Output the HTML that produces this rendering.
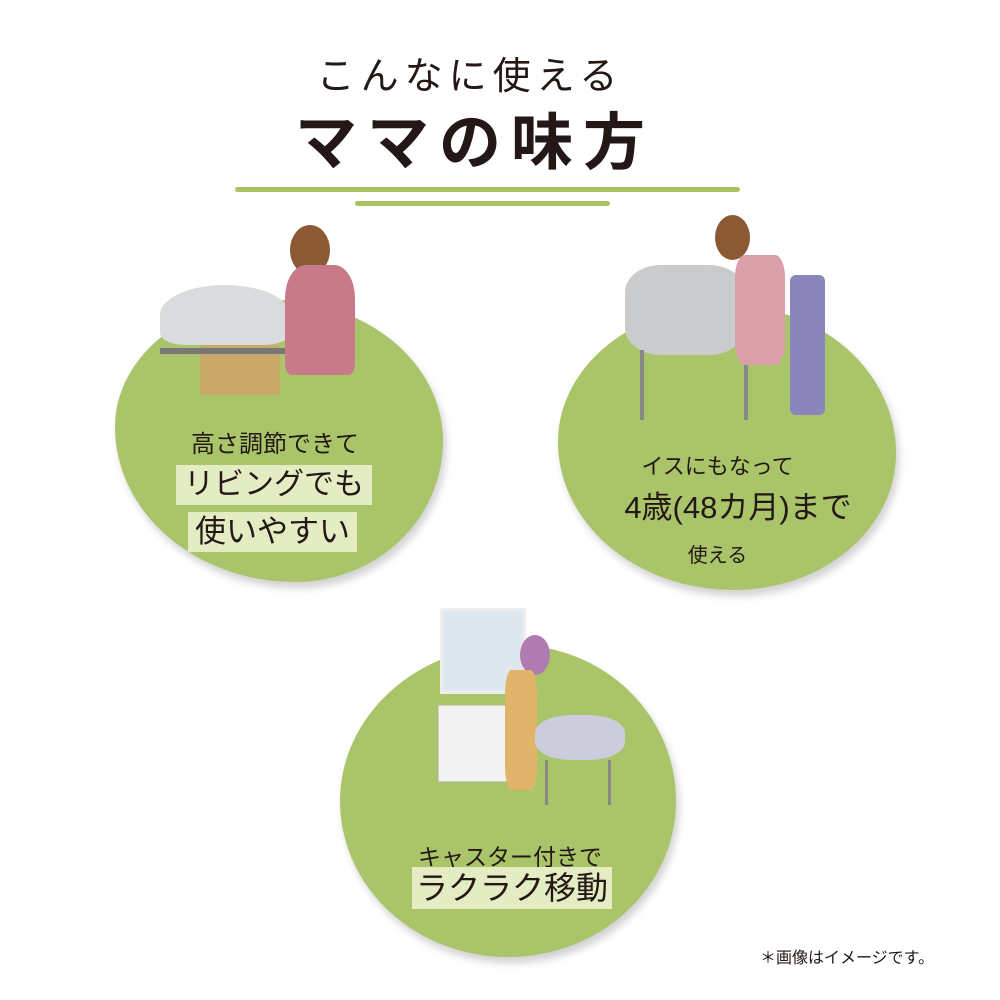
<!DOCTYPE html>
<html><head><meta charset="utf-8"><style>
body{margin:0;width:1000px;height:1000px;background:#fff;position:relative;overflow:hidden;font-family:"Liberation Sans","Noto Sans CJK JP",sans-serif;color:#231815}
.a{position:absolute}
.blob{position:absolute;background:#aac46a;box-shadow:3px 6px 8px rgba(0,0,0,.18)}
.t{position:absolute;white-space:nowrap;text-align:center}
.hl{background:#e4ecc4}
</style></head><body>
<div class="t" style="left:300px;top:45px;width:340px;font-size:38px;letter-spacing:6px">こんなに使える</div>
<div class="t" style="left:270px;top:108px;width:410px;font-size:62px;font-weight:bold;letter-spacing:10px;line-height:72px">ママの味方</div>
<div class="a" style="left:235px;top:187px;width:505px;height:5px;background:#a8c45e;border-radius:3px"></div>
<div class="a" style="left:355px;top:201px;width:255px;height:5px;background:#a8c45e;border-radius:3px"></div>

<div class="blob" style="left:115px;top:300px;width:328px;height:282px;border-radius:48% 52% 45% 55%/45% 50% 50% 55%"></div>
<div class="blob" style="left:558px;top:305px;width:338px;height:285px;border-radius:50% 50% 48% 52%/48% 52% 48% 52%"></div>
<div class="blob" style="left:340px;top:645px;width:336px;height:312px;border-radius:52% 48% 50% 50%/50% 50% 50% 50%"></div>

<div class="a" style="left:160px;top:285px;width:130px;height:60px;background:#d9dcdc;border-radius:50% 50% 20% 20%"></div>
<div class="a" style="left:200px;top:345px;width:80px;height:50px;background:#c9a86a;border-radius:4px"></div>
<div class="a" style="left:160px;top:348px;width:140px;height:6px;background:#777"></div>
<div class="a" style="left:290px;top:225px;width:40px;height:50px;background:#8b5a34;border-radius:50%"></div>
<div class="a" style="left:285px;top:265px;width:70px;height:110px;background:#c97a88;border-radius:30% 30% 10% 10%"></div>
<div class="a" style="left:625px;top:265px;width:120px;height:90px;background:#c9cbcc;border-radius:30%"></div>
<div class="a" style="left:640px;top:350px;width:100px;height:70px;border:4px solid #888;border-top:none;border-bottom:none"></div>
<div class="a" style="left:715px;top:215px;width:35px;height:45px;background:#8b5a34;border-radius:50%"></div>
<div class="a" style="left:735px;top:255px;width:50px;height:110px;background:#d9a0aa;border-radius:20%"></div>
<div class="a" style="left:790px;top:275px;width:35px;height:140px;background:#8a86bb;border-radius:6px"></div>
<div class="a" style="left:440px;top:608px;width:80px;height:80px;background:#dfe8ef;border:3px solid #eee"></div>
<div class="a" style="left:438px;top:705px;width:90px;height:75px;background:#f3f3f3;border:1px solid #ccc"></div>
<div class="a" style="left:520px;top:635px;width:30px;height:40px;background:#b07bb0;border-radius:50%"></div>
<div class="a" style="left:505px;top:670px;width:32px;height:120px;background:#e0b46a;border-radius:20%"></div>
<div class="a" style="left:535px;top:715px;width:90px;height:45px;background:#ccd;border-radius:40%"></div>
<div class="a" style="left:545px;top:760px;width:60px;height:45px;border:3px solid #888;border-top:none;border-bottom:none"></div>

<div class="t" style="left:150px;top:424px;width:250px;font-size:24px">高さ調節できて</div>
<div class="t hl" style="left:176px;top:465px;width:196px;font-size:30px;line-height:40px">リビングでも</div>
<div class="t hl" style="left:188px;top:512px;width:169px;font-size:31px;line-height:40px">使いやすい</div>

<div class="t" style="left:600px;top:449px;width:235px;font-size:22px">イスにもなって</div>
<div class="t" style="left:598px;top:482px;width:280px;font-size:31px">4歳(48カ月)まで</div>
<div class="t" style="left:650px;top:539px;width:135px;font-size:20px">使える</div>

<div class="t" style="left:400px;top:838px;width:220px;font-size:23px">キャスター付きで</div>
<div class="t hl" style="left:412px;top:867px;width:200px;font-size:32px;line-height:42px">ラクラク移動</div>

<div class="t" style="left:760px;top:944px;font-size:16px">＊画像はイメージです。</div>
</body></html>
